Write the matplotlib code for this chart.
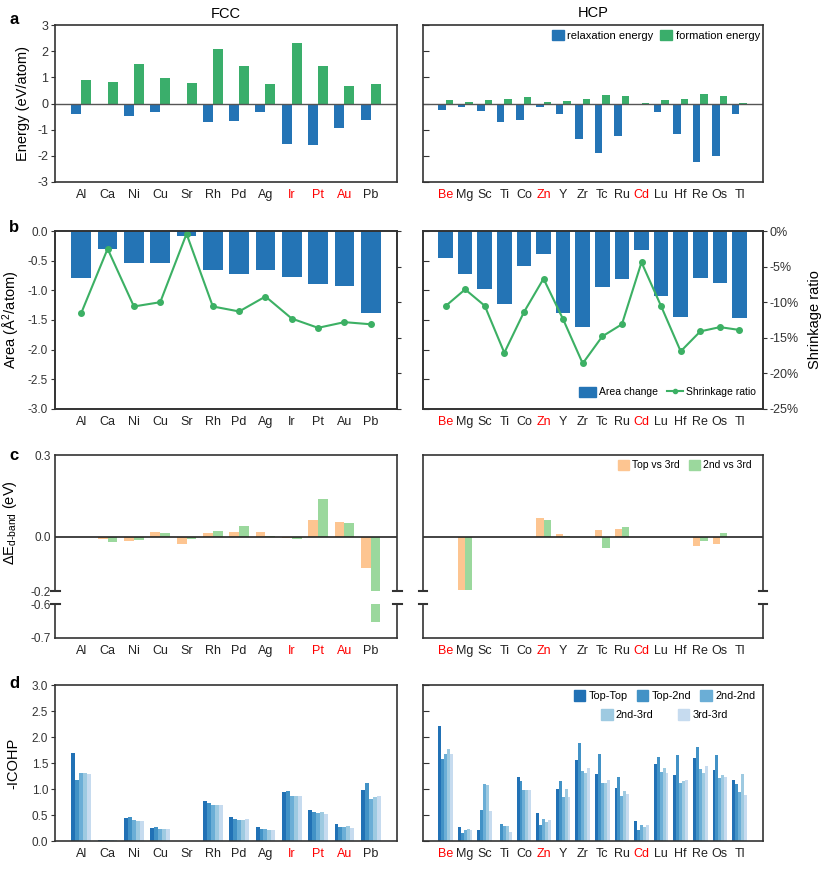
import matplotlib
matplotlib.use('Agg')
import matplotlib.pyplot as plt
import numpy as np
from matplotlib.patches import Patch
from matplotlib.lines import Line2D
from matplotlib.ticker import FuncFormatter

plt.rcParams['font.family'] = ['Liberation Sans', 'DejaVu Sans']
plt.rcParams['mathtext.fontset'] = 'custom'
plt.rcParams['mathtext.rm'] = 'Liberation Sans'
plt.rcParams['mathtext.it'] = 'Liberation Sans:italic'
plt.rcParams['axes.unicode_minus'] = False
plt.rcParams['axes.linewidth'] = 1.2
plt.rcParams['axes.edgecolor'] = '#333333'
plt.rcParams['xtick.color'] = '#333333'
plt.rcParams['ytick.color'] = '#333333'

# element names
fcc = ['Al', 'Ca', 'Ni', 'Cu', 'Sr', 'Rh', 'Pd', 'Ag', 'Ir', 'Pt', 'Au', 'Pb']
hcp = ['Be', 'Mg', 'Sc', 'Ti', 'Co', 'Zn', 'Y', 'Zr', 'Tc', 'Ru', 'Cd', 'Lu', 'Hf', 'Re', 'Os', 'Tl']
fcc_red = ['Ir', 'Pt', 'Au']
hcp_red = ['Be', 'Zn', 'Cd']

# a: energies (eV/atom)
fcc_relax = [-0.41, 0, -0.49, -0.33, 0, -0.69, -0.65, -0.31, -1.56, -1.59, -0.94, -0.62]
fcc_form = [0.88, 0.83, 1.50, 0.96, 0.77, 2.08, 1.42, 0.74, 2.31, 1.45, 0.68, 0.74]
hcp_relax = [-0.26, -0.13, -0.28, -0.70, -0.63, -0.13, -0.41, -1.37, -1.90, -1.26,
             -0.05, -0.33, -1.15, -2.22, -1.99, -0.40]
hcp_form = [0.15, 0.05, 0.12, 0.19, 0.23, 0.04, 0.10, 0.17, 0.31, 0.29,
            0.02, 0.12, 0.19, 0.35, 0.29, 0.02]

# b: area change (A^2/atom) and shrinkage ratio (%)
fcc_area = [-0.80, -0.31, -0.54, -0.54, -0.08, -0.65, -0.73, -0.65, -0.78, -0.90, -0.92, -1.38]
fcc_shrink = [-11.5, -2.5, -10.6, -10.0, -0.4, -10.6, -11.3, -9.2, -12.3, -13.6, -12.8, -13.1]
hcp_area = [-0.46, -0.72, -0.97, -1.23, -0.59, -0.38, -1.38, -1.62, -0.95, -0.81,
            -0.32, -1.09, -1.45, -0.80, -0.87, -1.46]
hcp_shrink = [-10.55, -8.2, -10.5, -17.1, -11.4, -6.7, -12.4, -18.6, -14.8, -13.1,
              -4.4, -10.55, -16.9, -14.1, -13.5, -13.9]

# c: d-band shifts (eV)
fcc_top3 = [0, -0.007, -0.017, 0.018, -0.027, 0.013, 0.018, 0.017, -0.005, 0.060, 0.054, -0.114]
fcc_2nd3 = [0, -0.020, -0.011, 0.012, -0.007, 0.021, 0.038, 0.002, -0.007, 0.137, 0.050, -0.652]
hcp_top3 = [0, -0.195, 0, 0, 0, 0.069, 0.008, 0, 0.023, 0.029, 0, 0, 0, -0.033, -0.026, 0]
hcp_2nd3 = [0, -0.195, -0.003, 0, 0, 0.061, 0.002, 0, -0.043, 0.035, 0, 0, 0, -0.016, 0.012, 0]

# d: -ICOHP
bond_names = ['Top-Top', 'Top-2nd', '2nd-2nd', '2nd-3rd', '3rd-3rd']
fcc_tt = [1.70, 0.01, 0.44, 0.25, 0.005, 0.76, 0.47, 0.26, 0.95, 0.60, 0.32, 0.98]
fcc_t2 = [1.18, 0.01, 0.47, 0.26, 0.005, 0.74, 0.42, 0.23, 0.96, 0.55, 0.27, 1.12]
fcc_22 = [1.31, 0.01, 0.40, 0.24, 0.005, 0.69, 0.41, 0.23, 0.87, 0.54, 0.27, 0.80]
fcc_23 = [1.31, 0.01, 0.38, 0.23, 0.005, 0.69, 0.40, 0.21, 0.87, 0.56, 0.28, 0.84]
fcc_33 = [1.28, 0.01, 0.39, 0.23, 0.005, 0.69, 0.42, 0.21, 0.86, 0.51, 0.25, 0.86]
hcp_tt = [2.22, 0.26, 0.21, 0, 1.23, 0.53, 1.00, 1.55, 1.28, 1.01, 0.39, 1.48, 1.26, 1.59, 1.36, 1.17]
hcp_t2 = [1.57, 0.15, 0.59, 0.32, 1.16, 0.30, 1.15, 1.88, 1.67, 1.24, 0.21, 1.61, 1.65, 1.81, 1.65, 1.09]
hcp_22 = [1.68, 0.21, 1.10, 0.28, 0.98, 0.43, 0.84, 1.35, 1.11, 0.86, 0.31, 1.33, 1.11, 1.38, 1.22, 0.94]
hcp_23 = [1.76, 0.24, 1.07, 0.28, 0.98, 0.37, 1.00, 1.30, 1.11, 0.96, 0.26, 1.41, 1.16, 1.30, 1.27, 1.29]
hcp_33 = [1.67, 0.21, 0.58, 0.17, 0.98, 0.40, 0.85, 1.41, 1.18, 0.91, 0.30, 1.30, 1.17, 1.45, 1.23, 0.89]

blue = '#2474b5'
green = '#3aae6b'
line_green = '#3cb064'
orange_l = '#fdc591'
green_l = '#9bd89d'
blues = ['#2171b5', '#4292c6', '#6baed6', '#9ecae1', '#c6dbef']

W, H = 826, 869
fig = plt.figure(figsize=(W / 100, H / 100), dpi=100)
TS = 8.5   # tick label size
LS = 10.5  # axis label size


def add_ax(l, t, r, b):
    return fig.add_axes([l / W, 1 - b / H, (r - l) / W, (b - t) / H])


def xlabels(ax, names, red):
    ax.set_xticks(np.arange(len(names)))
    ax.set_xticklabels(names, fontsize=9)
    for lab, name in zip(ax.get_xticklabels(), names):
        lab.set_color('red' if name in red else '#222222')
    ax.tick_params(axis='x', length=0, pad=5)


LX = (55, 397)
RX = (423, 763)
fxlim = (-1, 12)
hxlim = (-1.15, 16.2)
xf = np.arange(len(fcc))
xh = np.arange(len(hcp))

# ---------------- a ----------------
a1 = add_ax(LX[0], 25, LX[1], 182)
a2 = add_ax(RX[0], 25, RX[1], 182)
for ax, x, rel, form, names, red, xl in [(a1, xf, fcc_relax, fcc_form, fcc, fcc_red, fxlim),
                                          (a2, xh, hcp_relax, hcp_form, hcp, hcp_red, hxlim)]:
    ax.bar(x, rel, width=-0.38, align='edge', color=blue)
    ax.bar(x, form, width=0.38, align='edge', color=green)
    ax.axhline(0, color='#555555', lw=1)
    ax.set_ylim(-3, 3)
    ax.set_yticks(range(-3, 4))
    ax.set_xlim(*xl)
    xlabels(ax, names, red)
a1.tick_params(axis='y', labelsize=TS + 0.5, length=3, pad=2)
a2.tick_params(axis='y', labelleft=False, direction='in', length=4)
a1.set_ylabel('Energy (eV/atom)', fontsize=LS, labelpad=5)
a1.set_title('FCC', fontsize=10.5, pad=5)
a2.set_title('HCP', fontsize=10.5, pad=6)
a2.legend([Patch(color=blue), Patch(color=green)], ['relaxation energy', 'formation energy'],
          ncol=2, loc='center', bbox_to_anchor=(0.685, 0.935), frameon=False, fontsize=8,
          handlelength=1.1, handleheight=1.1, handletextpad=0.3, columnspacing=0.6)

# ---------------- b ----------------
b1 = add_ax(LX[0], 231, LX[1], 409)
b2 = add_ax(RX[0], 231, RX[1], 409)
twins = []
for ax, x, area, shr, names, red, xl in [(b1, xf, fcc_area, fcc_shrink, fcc, [], fxlim),
                                          (b2, xh, hcp_area, hcp_shrink, hcp, hcp_red, hxlim)]:
    ax.bar(x, area, width=0.75, color=blue)
    ax.set_ylim(-3, 0)
    ax.set_yticks(np.arange(0, -3.01, -0.5))
    ax.yaxis.set_major_formatter(FuncFormatter(lambda v, _: f'{v:.1f}'))
    ax.set_xlim(*xl)
    xlabels(ax, names, red)
    tw = ax.twinx()
    tw.plot(x, shr, color=line_green, lw=1.5, marker='o', markersize=4)
    tw.set_ylim(-25, 0)
    tw.set_yticks(range(0, -26, -5))
    tw.yaxis.set_major_formatter(FuncFormatter(lambda v, _: f'{v:.0f}%'))
    twins.append(tw)
b1.tick_params(axis='y', labelsize=TS, length=3, pad=2)
b2.tick_params(axis='y', labelleft=False, direction='in', length=4)
twins[0].tick_params(axis='y', labelright=False, length=3)
twins[1].tick_params(axis='y', labelsize=TS + 0.5, length=3, pad=2)
b1.set_ylabel('Area (Å$^2$/atom)', fontsize=LS, labelpad=4)
twins[1].set_ylabel('Shrinkage ratio', fontsize=LS, labelpad=6)
twins[1].legend([Patch(color=blue), Line2D([], [], color=line_green, lw=1.5, marker='o', markersize=3)],
                ['Area change', 'Shrinkage ratio'], ncol=2, loc='center',
                bbox_to_anchor=(0.72, 0.095), frameon=False, fontsize=7.5,
                handlelength=1.6, handleheight=1.1, handletextpad=0.3, columnspacing=0.8)

# ---------------- c (broken axis) ----------------
c1u = add_ax(LX[0], 455, LX[1], 591)
c1l = add_ax(LX[0], 604, LX[1], 638)
c2u = add_ax(RX[0], 455, RX[1], 591)
c2l = add_ax(RX[0], 604, RX[1], 638)
for up, lo, x, t3, s3, names, red, xl in [(c1u, c1l, xf, fcc_top3, fcc_2nd3, fcc, fcc_red, fxlim),
                                           (c2u, c2l, xh, hcp_top3, hcp_2nd3, hcp, hcp_red, hxlim)]:
    for ax in (up, lo):
        ax.bar(x, t3, width=-0.37, align='edge', color=orange_l)
        ax.bar(x, s3, width=0.37, align='edge', color=green_l)
        ax.set_xlim(*xl)
        ax.tick_params(axis='y', length=0, labelsize=TS, pad=3)
    up.axhline(0, color='#222222', lw=1.2)
    up.set_ylim(-0.2, 0.3)
    up.set_yticks([0.3, 0.0, -0.2])
    lo.set_ylim(-0.7, -0.6)
    lo.set_yticks([-0.6, -0.7])
    for ax in (up, lo):
        ax.yaxis.set_major_formatter(FuncFormatter(lambda v, _: f'{v:.1f}'))
    up.spines['bottom'].set_visible(False)
    up.set_xticks([])
    lo.spines['top'].set_visible(False)
    xlabels(lo, names, red)
    # break caps
    d = 4.5 / (LX[1] - LX[0])
    for xs in (0, 1):
        up.plot([xs - d, xs + d], [0, 0], transform=up.transAxes, color='#333333', lw=1.5, clip_on=False)
        lo.plot([xs - d, xs + d], [1, 1], transform=lo.transAxes, color='#333333', lw=1.5, clip_on=False)
c2u.tick_params(axis='y', labelleft=False)
c2l.tick_params(axis='y', labelleft=False)
c1u.set_ylabel(r'$\Delta$E$_{\mathrm{d}\text{-}\mathrm{band}}$ (eV)', fontsize=LS, labelpad=8)
c2u.legend([Patch(color=orange_l), Patch(color=green_l)], ['Top vs 3rd', '2nd vs 3rd'],
           ncol=2, loc='center', bbox_to_anchor=(0.77, 0.925), frameon=False, fontsize=7.5,
           handlelength=1.1, handleheight=1.1, handletextpad=0.3, columnspacing=0.8)

# ---------------- d ----------------
d1 = add_ax(LX[0], 685, LX[1], 841)
d2 = add_ax(RX[0], 685, RX[1], 841)
for ax, x, series, names, red, xl in [(d1, xf, [fcc_tt, fcc_t2, fcc_22, fcc_23, fcc_33], fcc, fcc_red, fxlim),
                                       (d2, xh, [hcp_tt, hcp_t2, hcp_22, hcp_23, hcp_33], hcp, hcp_red, hxlim)]:
    for k, vals in enumerate(series):
        ax.bar(x + (k - 2) * 0.15, vals, width=0.15, color=blues[k])
    ax.set_ylim(0, 3)
    ax.set_yticks(np.arange(0, 3.01, 0.5))
    ax.yaxis.set_major_formatter(FuncFormatter(lambda v, _: f'{v:.1f}'))
    ax.set_xlim(*xl)
    xlabels(ax, names, red)
d1.tick_params(axis='y', labelsize=TS, length=3, pad=2)
d2.tick_params(axis='y', labelleft=False, direction='in', length=4)
d1.set_ylabel('-ICOHP', fontsize=LS, labelpad=8)
hd = [Patch(color=c) for c in blues]
leg1 = d2.legend(hd[:3], bond_names[:3], ncol=3, loc='center', bbox_to_anchor=(0.71, 0.93),
                 frameon=False, fontsize=7.8, handlelength=1.1, handleheight=1.1,
                 handletextpad=0.3, columnspacing=0.8)
d2.add_artist(leg1)
d2.legend(hd[3:], bond_names[3:], ncol=2, loc='center', bbox_to_anchor=(0.71, 0.81),
          frameon=False, fontsize=7.8, handlelength=1.1, handleheight=1.1,
          handletextpad=0.3, columnspacing=2.2)

# panel letters
for lab, y in [('a', 20), ('b', 228), ('c', 455), ('d', 683)]:
    fig.text(14 / W, 1 - y / H, lab, fontsize=12, fontweight='bold', ha='center', va='center')

fig.savefig('out.png', dpi=100)
